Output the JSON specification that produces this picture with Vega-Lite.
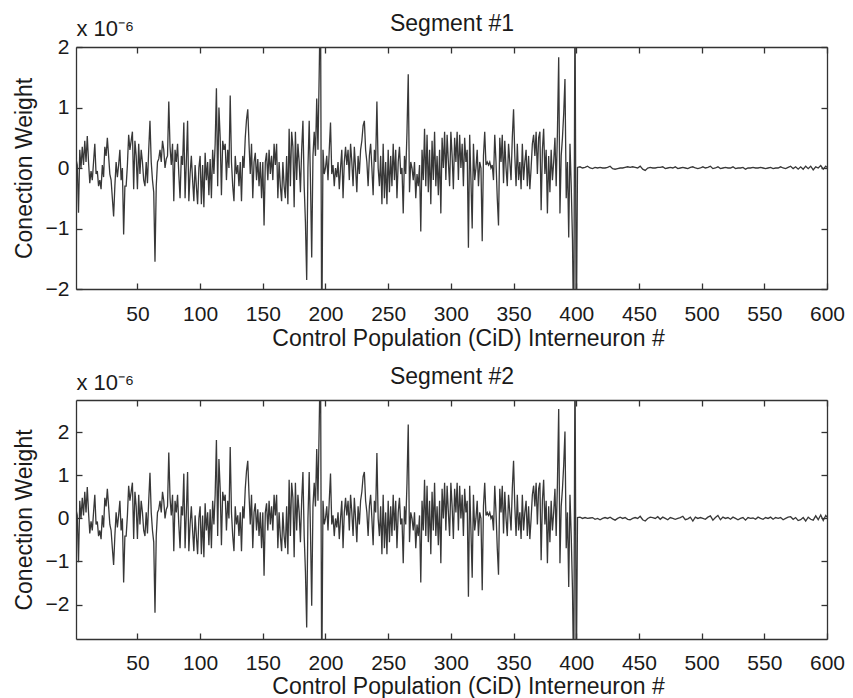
{
"$schema": "https://vega.github.io/schema/vega-lite/v6.json",
"padding": {"left": 13, "top": 12, "right": 5, "bottom": 0},
"background": "white",
"config": {
  "view": {"stroke": null},
  "font": "Liberation Sans",
  "axis": {"grid": false, "domainColor": "#333333", "domainWidth": 1.3, "tickColor": "#333333", "tickWidth": 1.3, "tickSize": -6,
    "labelFont": "Liberation Sans", "titleFont": "Liberation Sans", "labelFontSize": 21, "titleFontSize": 23, "titleFontWeight": "normal",
    "labelColor": "#1a1a1a", "titleColor": "#1a1a1a", "labelFlush": false}
},
"spacing": 15,
"data": {"values": [
{"i":1,"a":0.15,"b":0.21},{"i":2,"a":0.05,"b":0.07},{"i":3,"a":-0.74,"b":-1.02},{"i":4,"a":0.3,"b":0.41},{"i":5,"a":0,"b":0},
{"i":6,"a":0.35,"b":0.48},{"i":7,"a":0.05,"b":0.07},{"i":8,"a":0.45,"b":0.62},{"i":9,"a":0.1,"b":0.14},{"i":10,"a":0.53,"b":0.73},
{"i":11,"a":0.1,"b":0.14},{"i":12,"a":-0.25,"b":-0.35},{"i":13,"a":-0.05,"b":-0.07},{"i":14,"a":-0.2,"b":-0.28},{"i":15,"a":0.1,"b":0.14},
{"i":16,"a":0.4,"b":0.55},{"i":17,"a":-0.1,"b":-0.14},{"i":18,"a":-0.05,"b":-0.07},{"i":19,"a":-0.3,"b":-0.41},{"i":20,"a":-0.2,"b":-0.28},
{"i":21,"a":-0.35,"b":-0.48},{"i":22,"a":0.05,"b":0.07},{"i":23,"a":-0.15,"b":-0.21},{"i":24,"a":0.35,"b":0.48},{"i":25,"a":0.2,"b":0.28},
{"i":26,"a":0.5,"b":0.69},{"i":27,"a":0.2,"b":0.28},{"i":28,"a":-0.1,"b":-0.14},{"i":29,"a":-0.2,"b":-0.28},{"i":30,"a":-0.5,"b":-0.69},
{"i":31,"a":-0.8,"b":-1.08},{"i":32,"a":-0.3,"b":-0.41},{"i":33,"a":0.1,"b":0.14},{"i":34,"a":-0.15,"b":-0.21},{"i":35,"a":0.05,"b":0.07},
{"i":36,"a":0.3,"b":0.41},{"i":37,"a":-0.2,"b":-0.28},{"i":38,"a":0,"b":0},{"i":39,"a":-1.1,"b":-1.49},{"i":40,"a":-0.3,"b":-0.41},
{"i":41,"a":-0.3,"b":-0.41},{"i":42,"a":0.05,"b":0.07},{"i":43,"a":0.55,"b":0.76},{"i":44,"a":0.3,"b":0.41},{"i":45,"a":0.45,"b":0.62},
{"i":46,"a":0.6,"b":0.83},{"i":47,"a":-0.35,"b":-0.48},{"i":48,"a":0.45,"b":0.62},{"i":49,"a":0.2,"b":0.28},{"i":50,"a":-0.35,"b":-0.48},
{"i":51,"a":0.4,"b":0.55},{"i":52,"a":-0.1,"b":-0.14},{"i":53,"a":0.3,"b":0.41},{"i":54,"a":0.1,"b":0.14},{"i":55,"a":-0.2,"b":-0.28},
{"i":56,"a":-0.3,"b":-0.41},{"i":57,"a":0.1,"b":0.14},{"i":58,"a":-0.25,"b":-0.35},{"i":59,"a":0.3,"b":0.41},{"i":60,"a":0.78,"b":1.06},
{"i":61,"a":0.1,"b":0.14},{"i":62,"a":-0.2,"b":-0.28},{"i":63,"a":-0.4,"b":-0.55},{"i":64,"a":-1.55,"b":-2.19},{"i":65,"a":-0.3,"b":-0.41},
{"i":66,"a":0.1,"b":0.14},{"i":67,"a":0.15,"b":0.21},{"i":68,"a":0.3,"b":0.41},{"i":69,"a":0.1,"b":0.14},{"i":70,"a":0.45,"b":0.62},
{"i":71,"a":0.3,"b":0.41},{"i":72,"a":0,"b":0},{"i":73,"a":0.15,"b":0.21},{"i":74,"a":0.2,"b":0.28},{"i":75,"a":1.1,"b":1.53},
{"i":76,"a":0.35,"b":0.48},{"i":77,"a":0.05,"b":0.07},{"i":78,"a":0.4,"b":0.55},{"i":79,"a":-0.55,"b":-0.76},{"i":80,"a":0.3,"b":0.41},
{"i":81,"a":0.1,"b":0.14},{"i":82,"a":0.4,"b":0.55},{"i":83,"a":-0.1,"b":-0.14},{"i":84,"a":-0.5,"b":-0.69},{"i":85,"a":0.2,"b":0.28},
{"i":86,"a":0.05,"b":0.07},{"i":87,"a":0.75,"b":1.04},{"i":88,"a":-0.5,"b":-0.69},{"i":89,"a":0.1,"b":0.14},{"i":90,"a":0.78,"b":1.08},
{"i":91,"a":-0.55,"b":-0.76},{"i":92,"a":-0.1,"b":-0.14},{"i":93,"a":0.2,"b":0.28},{"i":94,"a":-0.2,"b":-0.28},{"i":95,"a":-0.55,"b":-0.76},
{"i":96,"a":0.05,"b":0.07},{"i":97,"a":-0.3,"b":-0.41},{"i":98,"a":-0.6,"b":-0.83},{"i":99,"a":0,"b":0},{"i":100,"a":0.2,"b":0.28},
{"i":101,"a":-0.6,"b":-0.83},{"i":102,"a":0.05,"b":0.07},{"i":103,"a":-0.65,"b":-0.9},{"i":104,"a":0.25,"b":0.35},{"i":105,"a":-0.2,"b":-0.28},
{"i":106,"a":0.1,"b":0.14},{"i":107,"a":-0.45,"b":-0.62},{"i":108,"a":0.15,"b":0.21},{"i":109,"a":-0.5,"b":-0.69},{"i":110,"a":0.3,"b":0.41},
{"i":111,"a":-0.1,"b":-0.14},{"i":112,"a":0.4,"b":0.55},{"i":113,"a":1.32,"b":1.82},{"i":114,"a":-0.3,"b":-0.41},{"i":115,"a":1.0,"b":1.38},
{"i":116,"a":0.5,"b":0.69},{"i":117,"a":-0.45,"b":-0.62},{"i":118,"a":0.45,"b":0.62},{"i":119,"a":0.3,"b":0.41},{"i":120,"a":0.4,"b":0.55},
{"i":121,"a":-0.2,"b":-0.28},{"i":122,"a":0.3,"b":0.41},{"i":123,"a":0,"b":0},{"i":124,"a":1.2,"b":1.66},{"i":125,"a":0.1,"b":0.14},
{"i":126,"a":-0.3,"b":-0.41},{"i":127,"a":-0.55,"b":-0.76},{"i":128,"a":0.2,"b":0.28},{"i":129,"a":-0.1,"b":-0.14},{"i":130,"a":0.05,"b":0.07},
{"i":131,"a":-0.3,"b":-0.41},{"i":132,"a":0.1,"b":0.14},{"i":133,"a":-0.55,"b":-0.76},{"i":134,"a":0.2,"b":0.28},{"i":135,"a":0,"b":0},
{"i":136,"a":0.5,"b":0.69},{"i":137,"a":0.8,"b":1.1},{"i":138,"a":0.97,"b":1.34},{"i":139,"a":0.4,"b":0.55},{"i":140,"a":-0.1,"b":-0.14},
{"i":141,"a":0.4,"b":0.55},{"i":142,"a":-0.5,"b":-0.69},{"i":143,"a":0.1,"b":0.14},{"i":144,"a":0.25,"b":0.35},{"i":145,"a":-0.2,"b":-0.28},
{"i":146,"a":0.15,"b":0.21},{"i":147,"a":-0.3,"b":-0.41},{"i":148,"a":0.1,"b":0.14},{"i":149,"a":-0.5,"b":-0.69},{"i":150,"a":0.1,"b":0.14},
{"i":151,"a":-0.95,"b":-1.33},{"i":152,"a":0.1,"b":0.14},{"i":153,"a":0.25,"b":0.35},{"i":154,"a":-0.2,"b":-0.28},{"i":155,"a":0.3,"b":0.41},
{"i":156,"a":-0.1,"b":-0.14},{"i":157,"a":0.2,"b":0.28},{"i":158,"a":-0.2,"b":-0.28},{"i":159,"a":0.4,"b":0.55},{"i":160,"a":0.05,"b":0.07},
{"i":161,"a":0.4,"b":0.55},{"i":162,"a":-0.5,"b":-0.69},{"i":163,"a":0.1,"b":0.14},{"i":164,"a":-0.3,"b":-0.41},{"i":165,"a":-0.55,"b":-0.76},
{"i":166,"a":0.1,"b":0.14},{"i":167,"a":-0.3,"b":-0.41},{"i":168,"a":-0.5,"b":-0.69},{"i":169,"a":0.2,"b":0.28},{"i":170,"a":-0.6,"b":-0.83},
{"i":171,"a":0.65,"b":0.9},{"i":172,"a":-0.3,"b":-0.41},{"i":173,"a":0.6,"b":0.83},{"i":174,"a":0.35,"b":0.48},{"i":175,"a":-0.65,"b":-0.9},
{"i":176,"a":0.6,"b":0.83},{"i":177,"a":-0.2,"b":-0.28},{"i":178,"a":0.4,"b":0.55},{"i":179,"a":0.1,"b":0.14},{"i":180,"a":-0.4,"b":-0.55},
{"i":181,"a":0.3,"b":0.41},{"i":182,"a":0.78,"b":1.08},{"i":183,"a":-0.3,"b":-0.41},{"i":184,"a":-0.9,"b":-1.24},{"i":185,"a":-1.85,"b":-2.53},
{"i":186,"a":0,"b":0},{"i":187,"a":0.78,"b":1.08},{"i":188,"a":-0.2,"b":-0.28},{"i":189,"a":-1.48,"b":-2.03},{"i":190,"a":0.2,"b":0.28},
{"i":191,"a":0.6,"b":0.83},{"i":192,"a":0.2,"b":0.28},{"i":193,"a":1.15,"b":1.61},{"i":194,"a":0.3,"b":0.41},{"i":195,"a":1.6,"b":2.21},
{"i":196,"a":3.0,"b":4.0},{"i":197,"a":-3.0,"b":-4.0},{"i":198,"a":0.3,"b":0.41},{"i":199,"a":-0.1,"b":-0.14},{"i":200,"a":0,"b":0},
{"i":201,"a":0.2,"b":0.28},{"i":202,"a":-0.2,"b":-0.28},{"i":203,"a":0.3,"b":0.41},{"i":204,"a":0.75,"b":1.04},{"i":205,"a":-0.1,"b":-0.14},
{"i":206,"a":0.05,"b":0.07},{"i":207,"a":-0.3,"b":-0.41},{"i":208,"a":0,"b":0},{"i":209,"a":-0.15,"b":-0.21},{"i":210,"a":0.1,"b":0.14},
{"i":211,"a":-0.35,"b":-0.48},{"i":212,"a":0,"b":0},{"i":213,"a":0.3,"b":0.41},{"i":214,"a":-0.5,"b":-0.69},{"i":215,"a":0.1,"b":0.14},
{"i":216,"a":0.35,"b":0.48},{"i":217,"a":0.05,"b":0.07},{"i":218,"a":0.3,"b":0.41},{"i":219,"a":-0.2,"b":-0.28},{"i":220,"a":0.4,"b":0.55},
{"i":221,"a":0.1,"b":0.14},{"i":222,"a":-0.3,"b":-0.41},{"i":223,"a":0.35,"b":0.48},{"i":224,"a":0,"b":0},{"i":225,"a":-0.4,"b":-0.55},
{"i":226,"a":0.2,"b":0.28},{"i":227,"a":-0.1,"b":-0.14},{"i":228,"a":0.3,"b":0.41},{"i":229,"a":0.45,"b":0.62},{"i":230,"a":0.7,"b":0.97},
{"i":231,"a":0.78,"b":1.08},{"i":232,"a":0.3,"b":0.41},{"i":233,"a":0.1,"b":0.14},{"i":234,"a":-0.3,"b":-0.41},{"i":235,"a":0.2,"b":0.28},
{"i":236,"a":0.4,"b":0.55},{"i":237,"a":0,"b":0},{"i":238,"a":-0.45,"b":-0.62},{"i":239,"a":0.3,"b":0.41},{"i":240,"a":0.1,"b":0.14},
{"i":241,"a":1.1,"b":1.52},{"i":242,"a":0,"b":0},{"i":243,"a":-0.3,"b":-0.41},{"i":244,"a":0.2,"b":0.28},{"i":245,"a":-0.6,"b":-0.83},
{"i":246,"a":0.4,"b":0.55},{"i":247,"a":-0.5,"b":-0.69},{"i":248,"a":0.1,"b":0.14},{"i":249,"a":-0.6,"b":-0.83},{"i":250,"a":0.3,"b":0.41},
{"i":251,"a":-0.4,"b":-0.55},{"i":252,"a":0.2,"b":0.28},{"i":253,"a":-0.3,"b":-0.41},{"i":254,"a":0.4,"b":0.55},{"i":255,"a":-0.2,"b":-0.28},
{"i":256,"a":0.3,"b":0.41},{"i":257,"a":-0.5,"b":-0.69},{"i":258,"a":0.1,"b":0.14},{"i":259,"a":0.35,"b":0.48},{"i":260,"a":-0.1,"b":-0.14},
{"i":261,"a":0,"b":0},{"i":262,"a":-0.75,"b":-1.04},{"i":263,"a":0.2,"b":0.28},{"i":264,"a":-0.1,"b":-0.14},{"i":265,"a":0.6,"b":0.83},
{"i":266,"a":1.55,"b":2.18},{"i":267,"a":-0.4,"b":-0.55},{"i":268,"a":0.1,"b":0.14},{"i":269,"a":0,"b":0},{"i":270,"a":-0.2,"b":-0.28},
{"i":271,"a":0.1,"b":0.14},{"i":272,"a":-0.5,"b":-0.69},{"i":273,"a":-0.1,"b":-0.14},{"i":274,"a":-0.3,"b":-0.41},{"i":275,"a":0.05,"b":0.07},
{"i":276,"a":-1.05,"b":-1.49},{"i":277,"a":0.3,"b":0.41},{"i":278,"a":-0.2,"b":-0.28},{"i":279,"a":0.65,"b":0.9},{"i":280,"a":-0.3,"b":-0.41},
{"i":281,"a":0.55,"b":0.76},{"i":282,"a":-0.4,"b":-0.55},{"i":283,"a":0.3,"b":0.41},{"i":284,"a":-0.6,"b":-0.83},{"i":285,"a":0.45,"b":0.62},
{"i":286,"a":-0.2,"b":-0.28},{"i":287,"a":0.6,"b":0.83},{"i":288,"a":-0.3,"b":-0.41},{"i":289,"a":0.2,"b":0.28},{"i":290,"a":-0.45,"b":-0.62},
{"i":291,"a":0.3,"b":0.41},{"i":292,"a":-0.75,"b":-1.04},{"i":293,"a":0.5,"b":0.69},{"i":294,"a":0,"b":0},{"i":295,"a":0.6,"b":0.83},
{"i":296,"a":-0.2,"b":-0.28},{"i":297,"a":0.55,"b":0.76},{"i":298,"a":0.1,"b":0.14},{"i":299,"a":-0.3,"b":-0.41},{"i":300,"a":0.6,"b":0.83},
{"i":301,"a":0.2,"b":0.28},{"i":302,"a":-0.35,"b":-0.48},{"i":303,"a":0.5,"b":0.69},{"i":304,"a":0.1,"b":0.14},{"i":305,"a":0.6,"b":0.83},
{"i":306,"a":-0.2,"b":-0.28},{"i":307,"a":0.55,"b":0.76},{"i":308,"a":0,"b":0},{"i":309,"a":0.4,"b":0.55},{"i":310,"a":-0.3,"b":-0.41},
{"i":311,"a":0.5,"b":0.69},{"i":312,"a":0.1,"b":0.14},{"i":313,"a":0.3,"b":0.41},{"i":314,"a":-1.32,"b":-1.82},{"i":315,"a":0.55,"b":0.76},
{"i":316,"a":-0.2,"b":-0.28},{"i":317,"a":-1.0,"b":-1.38},{"i":318,"a":0.4,"b":0.55},{"i":319,"a":-0.2,"b":-0.28},{"i":320,"a":0,"b":0},
{"i":321,"a":0.3,"b":0.41},{"i":322,"a":-0.3,"b":-0.41},{"i":323,"a":0.1,"b":0.14},{"i":324,"a":0,"b":0},{"i":325,"a":-1.21,"b":-1.67},
{"i":326,"a":0.2,"b":0.28},{"i":327,"a":0.6,"b":0.83},{"i":328,"a":0.05,"b":0.07},{"i":329,"a":0.1,"b":0.14},{"i":330,"a":0.05,"b":0.07},
{"i":331,"a":0.1,"b":0.14},{"i":332,"a":0,"b":0},{"i":333,"a":0.05,"b":0.07},{"i":334,"a":-0.2,"b":-0.28},{"i":335,"a":0.55,"b":0.76},
{"i":336,"a":0.1,"b":0.14},{"i":337,"a":-0.5,"b":-0.69},{"i":338,"a":-0.95,"b":-1.31},{"i":339,"a":0.5,"b":0.69},{"i":340,"a":0.1,"b":0.14},
{"i":341,"a":0.55,"b":0.76},{"i":342,"a":-0.25,"b":-0.35},{"i":343,"a":0.45,"b":0.62},{"i":344,"a":0,"b":0},{"i":345,"a":-0.3,"b":-0.41},
{"i":346,"a":0.4,"b":0.55},{"i":347,"a":0.1,"b":0.14},{"i":348,"a":-0.2,"b":-0.28},{"i":349,"a":0.5,"b":0.69},{"i":350,"a":0.97,"b":1.34},
{"i":351,"a":0.2,"b":0.28},{"i":352,"a":-0.3,"b":-0.41},{"i":353,"a":0.4,"b":0.55},{"i":354,"a":-0.2,"b":-0.28},{"i":355,"a":0.1,"b":0.14},
{"i":356,"a":-0.35,"b":-0.48},{"i":357,"a":0.4,"b":0.55},{"i":358,"a":-0.2,"b":-0.28},{"i":359,"a":0.1,"b":0.14},{"i":360,"a":0.3,"b":0.41},
{"i":361,"a":-0.3,"b":-0.41},{"i":362,"a":0.2,"b":0.28},{"i":363,"a":-0.35,"b":-0.48},{"i":364,"a":0,"b":0},{"i":365,"a":0.4,"b":0.55},
{"i":366,"a":0.55,"b":0.76},{"i":367,"a":0.2,"b":0.28},{"i":368,"a":0.6,"b":0.83},{"i":369,"a":-0.1,"b":-0.14},{"i":370,"a":0.5,"b":0.69},
{"i":371,"a":0.6,"b":0.83},{"i":372,"a":-0.7,"b":-0.97},{"i":373,"a":0.3,"b":0.41},{"i":374,"a":0.65,"b":0.9},{"i":375,"a":-0.1,"b":-0.14},
{"i":376,"a":0.3,"b":0.41},{"i":377,"a":-0.75,"b":-1.04},{"i":378,"a":0.2,"b":0.28},{"i":379,"a":-0.4,"b":-0.55},{"i":380,"a":0.3,"b":0.41},
{"i":381,"a":-0.2,"b":-0.28},{"i":382,"a":0.1,"b":0.14},{"i":383,"a":0.5,"b":0.69},{"i":384,"a":-0.3,"b":-0.41},{"i":385,"a":0.6,"b":0.83},
{"i":386,"a":1.83,"b":2.54},{"i":387,"a":-0.75,"b":-1.04},{"i":388,"a":0.2,"b":0.28},{"i":389,"a":0.5,"b":0.69},{"i":390,"a":0.9,"b":1.24},
{"i":391,"a":1.47,"b":2.02},{"i":392,"a":-0.5,"b":-0.69},{"i":393,"a":0.1,"b":0.14},{"i":394,"a":-1.15,"b":-1.59},{"i":395,"a":0.4,"b":0.55},
{"i":396,"a":-0.3,"b":-0.41},{"i":397,"a":-1.2,"b":-1.66},{"i":398,"a":-3.0,"b":-4.0},{"i":399,"a":3.0,"b":4.0},{"i":400,"a":-3.0,"b":-4.0},
{"i":401,"a":0.01,"b":0.02},{"i":403,"a":0.02,"b":0.03},{"i":405,"a":0,"b":0},{"i":407,"a":0.01,"b":0.02},{"i":409,"a":0.03,"b":0},
{"i":411,"a":0,"b":0.01},{"i":413,"a":-0.01,"b":0.02},{"i":415,"a":0.01,"b":-0.02},{"i":417,"a":0,"b":0},{"i":419,"a":0.01,"b":-0.03},
{"i":421,"a":0,"b":0},{"i":423,"a":0,"b":0.02},{"i":425,"a":0.01,"b":0},{"i":427,"a":0.03,"b":0.03},{"i":429,"a":-0.01,"b":-0.01},
{"i":431,"a":-0.02,"b":-0.04},{"i":433,"a":-0.01,"b":0},{"i":435,"a":0,"b":0.03},{"i":437,"a":0,"b":0},{"i":439,"a":0.01,"b":0.02},
{"i":441,"a":0.02,"b":-0.02},{"i":443,"a":0.01,"b":-0.03},{"i":445,"a":0.02,"b":0},{"i":447,"a":0.01,"b":0.02},{"i":449,"a":0,"b":0},
{"i":451,"a":0.03,"b":0.05},{"i":453,"a":-0.02,"b":-0.03},{"i":455,"a":-0.04,"b":-0.06},{"i":457,"a":0,"b":0},{"i":459,"a":0.01,"b":0.03},
{"i":461,"a":0,"b":0.02},{"i":463,"a":0,"b":0},{"i":465,"a":0.01,"b":0.04},{"i":467,"a":0.01,"b":-0.02},{"i":469,"a":0.02,"b":0.03},
{"i":471,"a":-0.01,"b":0},{"i":473,"a":0,"b":-0.03},{"i":475,"a":0.01,"b":0.02},{"i":477,"a":0,"b":0},{"i":479,"a":0.02,"b":-0.02},
{"i":481,"a":-0.01,"b":0},{"i":483,"a":0,"b":0.02},{"i":485,"a":0.01,"b":0.05},{"i":487,"a":0,"b":-0.03},{"i":489,"a":-0.01,"b":-0.01},
{"i":491,"a":0.01,"b":0.03},{"i":493,"a":0.02,"b":-0.06},{"i":495,"a":0,"b":0.03},{"i":497,"a":-0.01,"b":0},{"i":499,"a":0,"b":0.02},
{"i":501,"a":0.02,"b":0},{"i":503,"a":0,"b":-0.02},{"i":505,"a":0.01,"b":0.03},{"i":507,"a":0.03,"b":0.06},{"i":509,"a":-0.01,"b":-0.04},
{"i":511,"a":0,"b":0.02},{"i":513,"a":0.02,"b":0.07},{"i":515,"a":-0.01,"b":-0.03},{"i":517,"a":0,"b":0.03},{"i":519,"a":0.01,"b":0},
{"i":521,"a":0,"b":0.02},{"i":523,"a":0,"b":-0.02},{"i":525,"a":0.02,"b":0.03},{"i":527,"a":-0.01,"b":0},{"i":529,"a":0,"b":-0.03},
{"i":531,"a":0,"b":0},{"i":533,"a":0.01,"b":0.02},{"i":535,"a":-0.02,"b":-0.04},{"i":537,"a":0,"b":0.02},{"i":539,"a":0,"b":0},
{"i":541,"a":0.01,"b":0.01},{"i":543,"a":0,"b":-0.02},{"i":545,"a":0,"b":0.03},{"i":547,"a":0.01,"b":0},{"i":549,"a":0,"b":-0.02},
{"i":551,"a":-0.01,"b":0.02},{"i":553,"a":0,"b":0},{"i":555,"a":0.01,"b":0.03},{"i":557,"a":-0.01,"b":-0.02},{"i":559,"a":0,"b":0.02},
{"i":561,"a":0,"b":0},{"i":563,"a":0.02,"b":0.02},{"i":565,"a":0,"b":-0.03},{"i":567,"a":-0.01,"b":0},{"i":569,"a":0.01,"b":0.03},
{"i":571,"a":0.03,"b":0.04},{"i":573,"a":-0.01,"b":-0.02},{"i":575,"a":0.02,"b":0.02},{"i":577,"a":-0.02,"b":-0.05},{"i":579,"a":0.02,"b":-0.03},
{"i":581,"a":-0.02,"b":0.02},{"i":583,"a":0.03,"b":-0.06},{"i":585,"a":-0.01,"b":0.03},{"i":587,"a":0.03,"b":-0.02},{"i":589,"a":-0.03,"b":-0.04},
{"i":591,"a":0.02,"b":0.06},{"i":593,"a":0,"b":-0.03},{"i":595,"a":0.04,"b":0.08},{"i":597,"a":-0.02,"b":-0.05},{"i":599,"a":0.03,"b":0.07},
{"i":600,"a":0.01,"b":0.03}
]},
"vconcat": [
{
  "width": 751, "height": 242,
  "layer": [
    {"mark": {"type": "line", "color": "#383838", "strokeWidth": 1.3, "clip": true},
     "encoding": {
       "x": {"field": "i", "type": "quantitative", "scale": {"domain": [1, 600], "nice": false, "zero": false},
             "axis": {"orient": "bottom", "values": [50,100,150,200,250,300,350,400,450,500,550,600], "title": "Control Population (CiD) Interneuron #", "labelPadding": 20, "titlePadding": 3, "titleX": 392}},
       "y": {"field": "a", "type": "quantitative", "scale": {"domain": [-2, 2], "nice": false, "zero": false},
             "axis": {"orient": "left", "values": [-2,-1,0,1,2], "title": "Conection Weight", "labelPadding": 13, "titlePadding": 9}}
     }},
    {"mark": {"type": "line", "strokeOpacity": 0, "clip": true},
     "encoding": {
       "x": {"field": "i", "type": "quantitative",
             "axis": {"orient": "top", "values": [50,100,150,200,250,300,350,400,450,500,550,600], "labels": false, "title": "Segment #1", "titlePadding": 16, "titleBaseline": "alphabetic"}},
       "y": {"field": "a", "type": "quantitative",
             "axis": {"orient": "right", "values": [-2,-1,0,1,2], "labels": false, "title": "x 10\u207b\u2076", "titleAngle": 0, "titleX": -751, "titleY": -11.5, "titleAlign": "left", "titleBaseline": "alphabetic", "titleFontSize": 22}}
     }}
  ],
  "resolve": {"axis": {"x": "independent", "y": "independent"}}
},
{
  "width": 751, "height": 239,
  "layer": [
    {"mark": {"type": "line", "color": "#383838", "strokeWidth": 1.3, "clip": true},
     "encoding": {
       "x": {"field": "i", "type": "quantitative", "scale": {"domain": [1, 600], "nice": false, "zero": false},
             "axis": {"orient": "bottom", "values": [50,100,150,200,250,300,350,400,450,500,550,600], "title": "Control Population (CiD) Interneuron #", "labelPadding": 19, "titlePadding": 2, "titleX": 392}},
       "y": {"field": "b", "type": "quantitative", "scale": {"domain": [-2.8, 2.75], "nice": false, "zero": false},
             "axis": {"orient": "left", "values": [-2,-1,0,1,2], "title": "Conection Weight", "labelPadding": 13, "titlePadding": 9}}
     }},
    {"mark": {"type": "line", "strokeOpacity": 0, "clip": true},
     "encoding": {
       "x": {"field": "i", "type": "quantitative",
             "axis": {"orient": "top", "values": [50,100,150,200,250,300,350,400,450,500,550,600], "labels": false, "title": "Segment #2", "titlePadding": 16, "titleBaseline": "alphabetic"}},
       "y": {"field": "b", "type": "quantitative",
             "axis": {"orient": "right", "values": [-2,-1,0,1,2], "labels": false, "title": "x 10\u207b\u2076", "titleAngle": 0, "titleX": -751, "titleY": -11, "titleAlign": "left", "titleBaseline": "alphabetic", "titleFontSize": 22}}
     }}
  ],
  "resolve": {"axis": {"x": "independent", "y": "independent"}}
}
]
}
